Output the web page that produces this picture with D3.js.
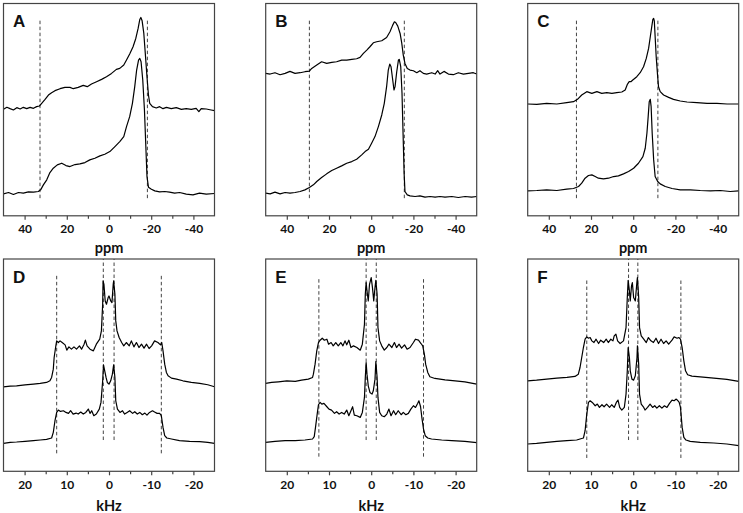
<!DOCTYPE html>
<html><head><meta charset="utf-8">
<script src="https://cdn.jsdelivr.net/npm/d3@7"></script>
<style>
html,body{margin:0;padding:0;background:#fff;}
svg{display:block;}
text{font-family:Lato,"Open Sans",sans-serif;font-weight:bold;fill:#111;}
</style></head>
<body><svg id="chart" width="743" height="513"></svg>
<script>
// ---------- DATA ----------
const panelLetters = ["A","B","C","D","E","F"];
const ppmTicks = [40, 20, 0, -20, -40];
const ppmMinorTicks = [30, 10, -10, -30];
const khzTicks = [20, 10, 0, -10, -20];
const khzMinorTicks = [15, 5, -5, -15];
const ppmDomain = [50, -50];
const khzDomain = [25, -25];
const ppmLabel = "ppm";
const khzLabel = "kHz";

// spectra: [shift, intensity (a.u., relative to own baseline)]
const specA1 = [[50,-3],[48.4,3],[46.9,-1],[45.3,-5],[43.7,2],[42.1,-2],[40.6,3],[39.0,-1],[37.4,3],[35.8,0],[34.3,5],[33.0,7],[31.9,15],[30.3,27],[28.7,40],[27.2,47],[25.6,53],[23.2,59],[20.9,63],[18.5,63],[16.9,59],[14.6,63],[12.2,69],[10.3,65],[8.3,73],[5.9,80],[3.5,87],[1.2,95],[-1.2,105],[-3.5,117],[-5.1,120],[-7.0,130],[-8.3,145],[-9.8,163],[-11.4,185],[-12.7,210],[-13.8,240],[-14.6,267],[-15.1,273],[-15.7,263],[-16.5,225],[-17.2,165],[-18.0,95],[-18.7,40],[-19.3,15],[-20.6,5],[-22.4,1],[-24.0,5],[-25.6,-1],[-27.2,3],[-29.5,-1],[-31.9,2],[-34.3,-3],[-36.6,-1],[-39.0,-3],[-41.3,0],[-42.6,-10],[-43.7,-1],[-46.1,-2],[-48.4,-5],[-50,-7]];
const specA2 = [[50,-2],[47.6,2],[45.3,-4],[42.9,2],[40.6,0],[38.2,4],[35.8,3],[33.5,5],[32.4,10],[31.1,25],[29.5,40],[28.0,62],[26.4,75],[24.5,85],[22.4,90],[20.4,83],[18.5,80],[16.1,86],[13.8,88],[11.4,92],[9.1,100],[6.7,105],[4.3,112],[2.0,117],[-0.4,125],[-2.8,140],[-5.1,155],[-7.0,170],[-8.3,200],[-9.8,230],[-11.1,270],[-12.2,320],[-13.1,370],[-14.0,400],[-14.6,405],[-15.2,395],[-16.0,340],[-16.8,250],[-17.4,150],[-18.0,50],[-18.7,18],[-20.1,12],[-21.7,7],[-24.0,4],[-26.4,5],[-28.7,3],[-31.1,0],[-33.5,2],[-36.6,-3],[-39.8,-5],[-42.9,0],[-46.1,-3],[-50,-1]];
const specB1 = [[50,0],[47.9,-2],[45.6,2],[43.2,-4],[40.8,0],[38.5,6],[36.1,0],[33.7,2],[31.4,5],[29.3,7],[28.2,15],[25.8,25],[23.5,35],[21.1,30],[18.7,33],[16.4,35],[14.0,40],[11.6,40],[9.2,42],[6.9,44],[5.3,48],[3.7,60],[2.1,70],[0.6,80],[-1.0,92],[-2.6,95],[-5.0,98],[-7.3,108],[-8.9,125],[-10.2,145],[-11.0,155],[-11.6,153],[-12.6,142],[-13.7,120],[-14.5,90],[-15.2,55],[-16.0,30],[-17.1,15],[-18.4,10],[-20.0,8],[-21.6,2],[-23.1,8],[-24.7,0],[-26.3,-2],[-28.7,2],[-30.3,-2],[-31.5,8],[-32.6,-2],[-34.5,6],[-36.6,-2],[-38.9,-4],[-41.3,2],[-43.7,-2],[-46.1,0],[-48.4,2],[-50,-2]];
const specB2 = [[50,0],[47.9,-2],[45.6,3],[43.2,-2],[40.8,2],[38.5,0],[36.1,2],[33.7,5],[31.4,10],[29.3,17],[27.4,25],[25.8,35],[23.5,47],[21.1,58],[18.7,68],[16.4,75],[14.0,82],[11.6,90],[9.2,95],[6.9,102],[4.5,115],[2.9,125],[1.3,132],[-0.2,150],[-1.8,170],[-3.4,200],[-5.0,235],[-6.2,270],[-7.3,320],[-8.1,370],[-8.8,388],[-9.4,380],[-10.2,340],[-10.8,310],[-11.3,320],[-12.1,365],[-12.9,400],[-13.3,402],[-14.0,380],[-14.6,300],[-15.1,180],[-15.6,60],[-16.0,5],[-17.1,-5],[-18.4,-8],[-20.8,-10],[-23.1,-8],[-25.5,-12],[-27.9,-10],[-30.3,-12],[-32.6,-10],[-35.0,-12],[-38.2,-10],[-41.3,-13],[-44.5,-10],[-47.6,-12],[-50,-10]];
const specC1 = [[50,0],[45.7,-1],[41.0,2],[36.2,0],[31.5,4],[28.3,7],[26.4,14],[24.4,27],[22.0,37],[19.6,32],[17.2,37],[14.9,32],[12.5,34],[10.1,32],[7.8,34],[5.4,36],[3.8,42],[2.7,60],[1.9,67],[1.1,67],[0.2,72],[-1.7,82],[-3.3,94],[-4.9,112],[-6.2,137],[-7.3,167],[-8.1,202],[-8.9,237],[-9.3,254],[-9.7,257],[-10.0,250],[-10.4,202],[-10.9,142],[-11.6,82],[-12.0,52],[-12.8,37],[-14.4,27],[-16.8,20],[-19.1,14],[-22.3,9],[-25.5,6],[-30.2,4],[-35.0,2],[-39.7,2],[-44.5,0],[-50,0]];
const specC2 = [[50,-1],[45.7,0],[41.0,2],[36.2,0],[31.5,4],[28.3,6],[25.9,12],[24.4,22],[22.8,37],[21.2,45],[19.6,47],[18.0,42],[16.5,37],[14.1,35],[11.7,37],[9.3,42],[7.0,44],[4.6,50],[2.2,57],[-0.2,67],[-2.5,82],[-4.6,102],[-5.7,127],[-6.5,172],[-7.1,222],[-7.6,267],[-8.1,274],[-8.5,252],[-9.0,172],[-9.7,92],[-10.4,42],[-11.6,27],[-12.8,20],[-15.2,12],[-18.4,6],[-22.3,2],[-27.1,2],[-31.8,0],[-36.6,-1],[-41.3,0],[-46.0,-3],[-50,-1]];
const specD1 = [[25,0],[23.4,2],[21.9,3],[19.9,6],[17.9,8],[16.3,10],[14.8,13],[14.0,18],[13.6,28],[13.2,53],[13.0,88],[12.6,123],[12.4,138],[12.0,133],[11.6,138],[11.1,133],[10.4,126],[10.0,110],[9.5,120],[8.9,113],[8.3,120],[7.7,113],[7.0,123],[6.5,113],[5.9,128],[5.6,140],[5.2,123],[4.5,113],[3.7,108],[3.0,128],[2.2,143],[1.8,168],[1.5,248],[1.4,318],[1.2,308],[0.9,258],[0.6,248],[0.2,268],[0.0,273],[-0.4,258],[-0.7,253],[-1.0,308],[-1.1,318],[-1.4,278],[-1.6,198],[-1.9,168],[-2.4,148],[-3.0,133],[-3.5,123],[-4.1,133],[-4.8,123],[-5.3,138],[-5.9,120],[-6.5,133],[-7.1,118],[-7.7,128],[-8.3,116],[-8.9,128],[-9.5,115],[-10.1,123],[-10.8,138],[-11.6,133],[-12.2,126],[-12.5,133],[-12.8,108],[-13.2,68],[-13.6,43],[-14.0,33],[-14.8,26],[-16.0,23],[-17.5,18],[-19.5,13],[-21.5,10],[-23.4,6],[-25,0]];
const specD2 = [[25,0],[23.4,3],[21.9,4],[19.9,6],[17.9,8],[16.3,10],[14.8,12],[13.6,16],[13.2,33],[12.8,68],[12.4,93],[12.0,100],[11.5,96],[10.8,98],[10.2,93],[9.6,90],[9.1,98],[8.5,88],[7.8,91],[7.3,88],[6.7,94],[6.1,88],[5.5,93],[4.9,103],[4.5,90],[4.1,98],[3.6,83],[3.0,88],[2.3,103],[1.9,123],[1.5,188],[1.3,236],[1.1,223],[0.7,198],[0.4,183],[0.0,178],[-0.4,188],[-0.8,208],[-1.1,236],[-1.4,198],[-1.6,128],[-2.0,103],[-2.6,93],[-3.2,98],[-3.7,88],[-4.3,93],[-4.9,98],[-5.6,90],[-6.1,95],[-6.7,88],[-7.3,93],[-7.9,86],[-8.5,91],[-9.0,85],[-9.6,93],[-10.3,98],[-10.8,94],[-11.4,90],[-12.0,90],[-12.4,83],[-12.8,48],[-13.2,23],[-13.7,16],[-14.8,13],[-16.7,8],[-19.1,6],[-21.5,5],[-23.4,3],[-25,0]];
const specE1 = [[25,0],[23.6,3],[22.0,5],[20.0,8],[18.0,6],[16.5,10],[14.9,13],[13.9,18],[13.7,28],[13.3,58],[12.9,98],[12.5,123],[12.1,130],[11.6,136],[11.1,130],[10.5,133],[10.1,118],[9.5,123],[9.0,113],[8.4,123],[7.8,113],[7.2,123],[6.7,113],[6.2,128],[5.8,116],[5.3,130],[4.8,108],[4.2,113],[3.4,108],[2.6,100],[2.1,118],[1.6,178],[1.4,268],[1.2,303],[1.0,278],[0.7,248],[0.4,298],[0.0,318],[-0.3,288],[-0.6,248],[-0.9,288],[-1.1,310],[-1.4,268],[-1.6,168],[-2.0,128],[-2.5,113],[-3.1,100],[-3.7,108],[-4.2,118],[-4.9,108],[-5.5,123],[-6.0,108],[-6.6,118],[-7.2,106],[-7.9,116],[-8.5,103],[-9.2,108],[-10.0,123],[-10.5,133],[-11.2,130],[-11.8,120],[-12.2,113],[-12.6,88],[-12.9,58],[-13.4,33],[-13.9,20],[-15.1,15],[-17.5,11],[-19.9,8],[-22.2,5],[-25,-2]];
const specE2 = [[25,0],[22.8,3],[20.4,5],[18.0,5],[15.7,7],[13.9,10],[13.5,17],[13.2,45],[12.8,85],[12.5,113],[12.1,120],[11.7,115],[11.2,117],[10.5,107],[10.0,100],[9.4,97],[8.7,87],[8.2,92],[7.6,85],[7.0,90],[6.4,85],[5.8,97],[5.3,80],[4.8,95],[4.4,107],[4.0,82],[3.4,80],[2.6,75],[2.1,90],[1.6,135],[1.4,195],[1.2,240],[1.0,205],[0.7,170],[0.3,150],[-0.2,145],[-0.5,155],[-0.9,190],[-1.1,243],[-1.4,195],[-1.6,135],[-2.0,90],[-2.5,80],[-3.1,77],[-3.7,85],[-4.2,100],[-4.7,80],[-5.3,95],[-5.8,83],[-6.4,95],[-7.1,83],[-7.6,90],[-8.2,83],[-8.8,87],[-9.4,100],[-10.0,110],[-10.5,105],[-11.0,117],[-11.3,125],[-11.7,107],[-12.0,75],[-12.4,40],[-12.8,20],[-13.4,13],[-14.3,10],[-16.7,7],[-19.1,5],[-22.2,3],[-25,-1]];
const specF1 = [[25,0],[22.9,2],[20.5,5],[18.1,8],[15.7,10],[13.8,13],[13.0,20],[12.6,40],[12.2,70],[11.8,100],[11.4,125],[11.0,132],[10.6,128],[10.2,130],[9.8,120],[9.3,115],[8.8,125],[8.2,112],[7.7,122],[7.0,115],[6.4,125],[5.9,115],[5.3,125],[4.8,120],[4.5,135],[4.1,140],[3.7,120],[3.1,112],[2.3,120],[1.7,160],[1.4,250],[1.2,302],[0.9,270],[0.7,240],[0.4,285],[0.2,295],[-0.1,250],[-0.5,240],[-0.9,300],[-1.0,310],[-1.3,250],[-1.5,160],[-1.9,135],[-2.5,125],[-3.1,115],[-3.6,130],[-4.2,120],[-4.8,115],[-5.4,128],[-6.0,112],[-6.6,125],[-7.2,112],[-7.8,120],[-8.4,110],[-9.2,122],[-9.7,132],[-10.4,128],[-10.8,130],[-11.2,125],[-11.6,100],[-12.0,60],[-12.4,30],[-12.9,18],[-13.9,14],[-15.9,12],[-19.1,8],[-22.2,4],[-25,-2]];
const specF2 = [[25,0],[22.9,2],[20.5,5],[18.1,8],[15.7,10],[13.4,12],[11.8,18],[11.4,40],[11.0,90],[10.6,125],[10.2,130],[9.7,125],[9.0,115],[8.5,120],[8.0,110],[7.4,118],[6.9,112],[6.3,120],[5.6,110],[5.1,118],[4.5,110],[4.0,125],[3.6,132],[3.2,110],[2.7,102],[2.1,110],[1.7,150],[1.4,220],[1.2,290],[0.9,260],[0.7,220],[0.3,195],[-0.1,192],[-0.5,205],[-0.9,260],[-1.0,295],[-1.3,240],[-1.5,150],[-1.9,120],[-2.5,110],[-2.8,102],[-3.4,110],[-4.0,120],[-4.6,110],[-5.1,115],[-5.6,108],[-6.2,115],[-6.8,108],[-7.4,115],[-8.0,110],[-8.6,122],[-9.2,132],[-9.7,130],[-10.2,135],[-10.6,130],[-10.9,125],[-11.2,110],[-11.6,50],[-12.0,20],[-12.5,12],[-13.5,8],[-15.9,5],[-19.1,3],[-22.2,0],[-25,-5]];

// vertical stacking offsets (upper, lower), a.u.
const offsetsA = [323, 68];
const offsetsB = [428, 68];
const offsetsC = [336, 76];
const offsetsD = [254, 84];
const offsetsE = [264, 87];
const offsetsF = [272, 82];

// dashed reference lines (shift positions)
const markA = [32.7, -18.2];
const markB = [29.3, -15.7];
const markC = [26.9, -11.7];
const markD = [12.4, 1.35, -1.2, -12.4];
const markE = [12.4, 1.2, -1.2, -12.4];
const markF = [11.0, 1.1, -1.1, -11.3];

// ---------- LAYOUT ----------
const colX = [3.5, 265.7, 527.7];
const panelW = 211;
const rowY = [3.5, 259];
const panelH = 212.3;
const intensityDomain = [0, 638];

const panels = [
  {letter:"A", specs:[specA1,specA2], offs:offsetsA, marks:markA, ppm:true},
  {letter:"B", specs:[specB1,specB2], offs:offsetsB, marks:markB, ppm:true},
  {letter:"C", specs:[specC1,specC2], offs:offsetsC, marks:markC, ppm:true},
  {letter:"D", specs:[specD1,specD2], offs:offsetsD, marks:markD, ppm:false, outer:[54,592]},
  {letter:"E", specs:[specE1,specE2], offs:offsetsE, marks:markE, ppm:false, outer:[44,584]},
  {letter:"F", specs:[specF1,specF2], offs:offsetsF, marks:markF, ppm:false, outer:[40,577]}
];

const svg = d3.select("#chart");

panels.forEach((p, i) => {
  const col = i % 3, row = Math.floor(i / 3);
  const x0 = colX[col], y0 = rowY[row];
  const g = svg.append("g").attr("transform", `translate(${x0},${y0})`);
  const x = d3.scaleLinear().domain(p.ppm ? ppmDomain : khzDomain).range([0, panelW]);
  const y = d3.scaleLinear().domain(intensityDomain).range([panelH, 0]);

  // dashed markers
  p.marks.forEach((m, k) => {
    let ext;
    if (p.ppm) ext = [53, 593];
    else ext = (k === 1 || k === 2) ? [94, 638] : p.outer;
    g.append("line")
      .attr("x1", x(m)).attr("x2", x(m))
      .attr("y1", y(ext[0])).attr("y2", y(ext[1]))
      .attr("stroke", "#444").attr("stroke-width", 1)
      .attr("stroke-dasharray", "3.5,2.5");
  });

  // spectra
  p.specs.forEach((s, k) => {
    const line = d3.line()
      .x(d => x(d[0]))
      .y(d => y(d[1] + p.offs[k]));
    g.append("path").datum(s)
      .attr("d", line)
      .attr("fill", "none")
      .attr("stroke", "#000")
      .attr("stroke-width", 1.2)
      .attr("stroke-linejoin", "round");
  });

  // frame
  g.append("rect").attr("x", 0).attr("y", 0)
    .attr("width", panelW).attr("height", panelH)
    .attr("fill", "none").attr("stroke", "#444").attr("stroke-width", 1.2);

  // axis
  const ax = d3.axisBottom(x)
    .tickValues(p.ppm ? ppmTicks : khzTicks)
    .tickSize(4).tickPadding(5)
    .tickFormat(d => String(d));
  const axg = g.append("g").attr("transform", `translate(0,${panelH})`).call(ax);
  axg.select(".domain").remove();
  axg.selectAll(".tick line").attr("stroke", "#444").attr("stroke-width", 1.2);
  axg.selectAll(".tick text").attr("font-size", 12).attr("fill", "#111")
    .style("font-family", "Lato, 'Open Sans', sans-serif").style("font-weight", "bold");
  const minor = d3.axisBottom(x)
    .tickValues(p.ppm ? ppmMinorTicks : khzMinorTicks)
    .tickSize(3).tickFormat("");
  const mg = g.append("g").attr("transform", `translate(0,${panelH})`).call(minor);
  mg.select(".domain").remove();
  mg.selectAll(".tick line").attr("stroke", "#444").attr("stroke-width", 1.2);

  // axis title
  g.append("text")
    .attr("x", x(0)).attr("y", panelH + (p.ppm ? 37 : 39.5))
    .attr("text-anchor", "middle").attr("font-size", 14.5)
    .text(p.ppm ? ppmLabel : khzLabel);

  // panel letter
  g.append("text")
    .attr("x", 9.5).attr("y", row === 0 ? 23 : 23.7)
    .attr("font-size", 17)
    .style("font-family", "'Liberation Sans', Arial, sans-serif")
    .style("font-weight", "bold")
    .text(p.letter);
});
</script>
</body></html>
